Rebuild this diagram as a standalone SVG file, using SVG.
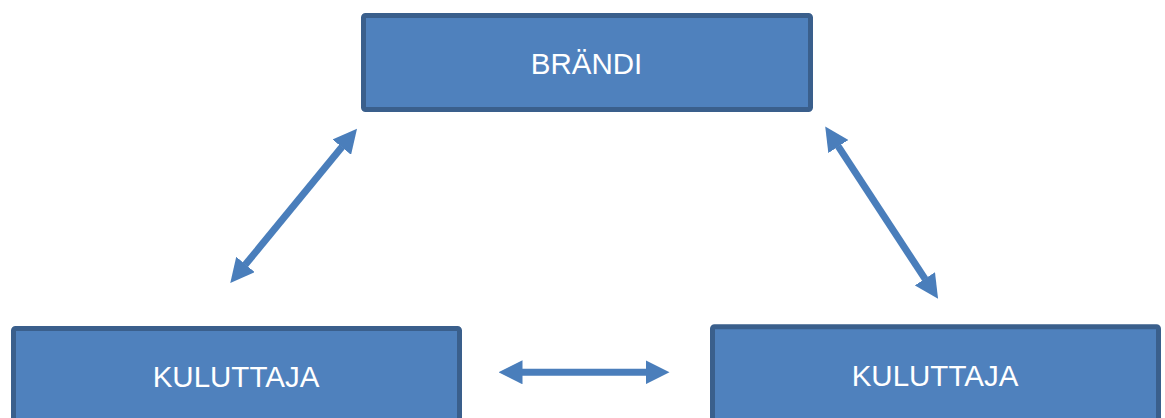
<svg xmlns="http://www.w3.org/2000/svg" width="1165" height="418" viewBox="0 0 1165 418">
  <defs>
    <style>
      .box { fill: #4F81BD; stroke: #3A5F8C; stroke-width: 5; }
      .label { fill: #FFFFFF; font-family: "Liberation Sans", Arial, sans-serif; font-size: 29.5px; text-anchor: middle; }
      .link { stroke: #4A7EBB; stroke-width: 7; fill: none; marker-start: url(#head); marker-end: url(#head); }
    </style>
    <marker id="head" viewBox="0 0 24 24" markerWidth="24" markerHeight="24" markerUnits="userSpaceOnUse" refX="0.5" refY="12" orient="auto-start-reverse">
      <path d="M0,0 L24,12 L0,24 Z" fill="#4A7EBB"/>
    </marker>
  </defs>
  <rect width="1165" height="418" fill="#FFFFFF"/>

  <g id="brandi">
    <rect class="box" x="363.5" y="15.5" width="447" height="94" rx="2"/>
    <text class="label" x="586.5" y="73.5">BRÄNDI</text>
  </g>

  <g id="kuluttaja-left">
    <rect class="box" x="13.5" y="328.5" width="446" height="120" rx="2"/>
    <text class="label" x="236" y="387">KULUTTAJA</text>
  </g>

  <g id="kuluttaja-right">
    <rect class="box" x="712.5" y="326.8" width="446" height="120" rx="2"/>
    <text class="label" x="935" y="386">KULUTTAJA</text>
  </g>

  <g id="connectors">
    <line class="link" x1="245.2" y1="264.8" x2="342.1" y2="146.8"/>
    <line class="link" x1="838.1" y1="146.1" x2="925.2" y2="279.2"/>
    <line class="link" x1="522" y1="372.3" x2="646" y2="372.3"/>
  </g>
</svg>
